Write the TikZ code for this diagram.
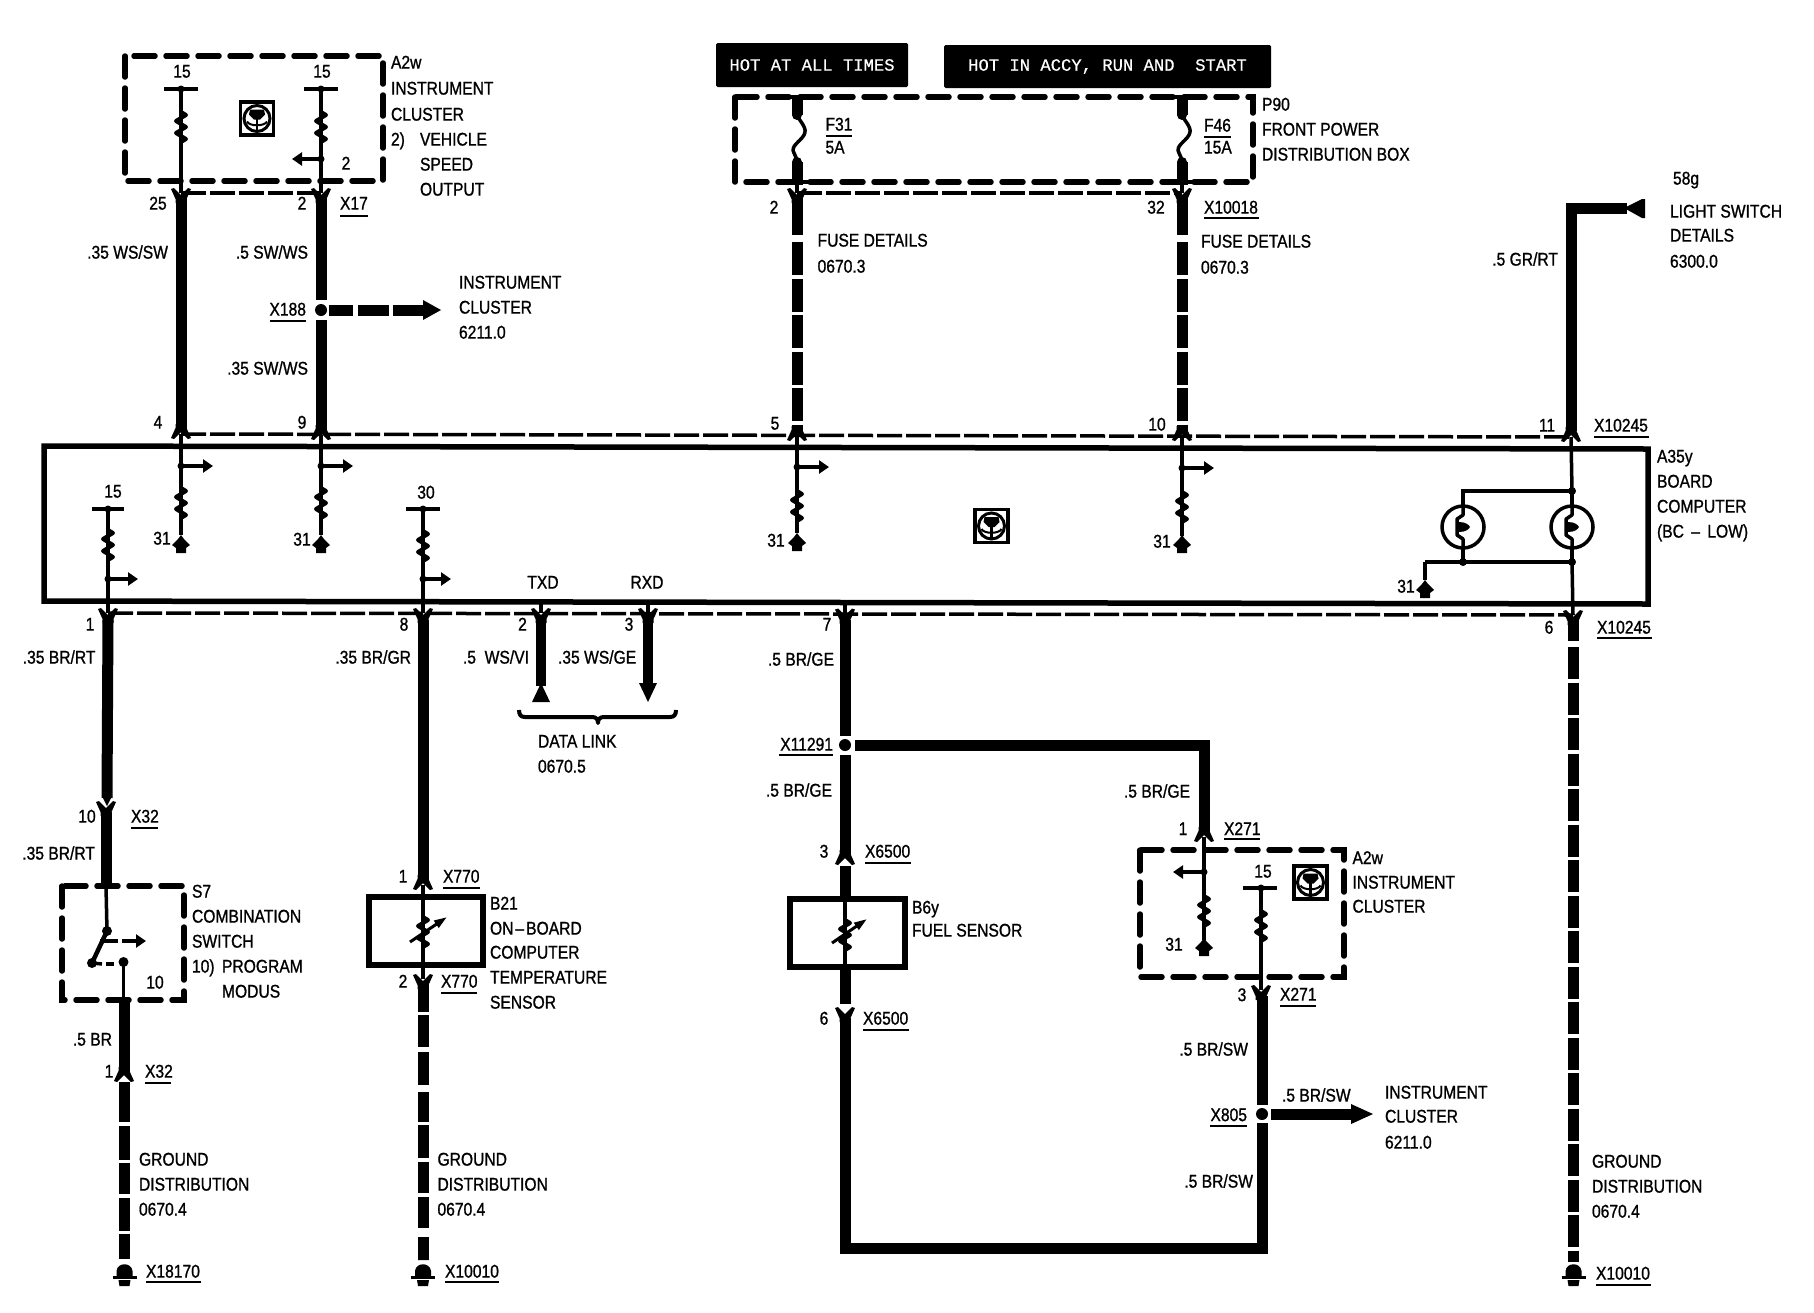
\documentclass[tikz,border=0pt]{standalone}
\usepackage{fontspec}
\setmainfont[FakeStretch=0.85,FakeBold=1.0]{Liberation Sans}
\newfontfamily\hotfont[FakeBold=0.5]{Liberation Mono}
\usetikzlibrary{arrows.meta}
\newcounter{tn}
\newcommand{\TL}[3]{\stepcounter{tn}\node[lab,anchor=base west] (tx\thetn) at (#1,#2) {#3};}
\newcommand{\TR}[3]{\stepcounter{tn}\node[lab,anchor=base east] (tx\thetn) at (#1,#2) {#3};}
\newcommand{\TC}[3]{\stepcounter{tn}\node[lab,anchor=base] (tx\thetn) at (#1,#2) {#3};}
\tikzset{
  lab/.style={inner sep=0pt,outer sep=0pt,yshift=-5.6pt,font=\fontsize{18.4}{20}\selectfont},
  thickw/.style={line width=11pt},
  thinw/.style={line width=3.5pt},
  connl/.style={line width=3.5pt,dash pattern=on 25pt off 4pt},
  boxd/.style={line width=5.5pt,line cap=round,dash pattern=on 21pt off 11pt},
  boxs/.style={line width=5.5pt,line join=miter},
  ul/.style={line width=1.8pt},
  barl/.style={line width=4pt},
  armw/.style={thinw,-{Triangle[length=10pt,width=13pt]}},
  coilp/.pic={\draw[line width=4pt,line join=round] (0,-15)--(5,-12)--(-5,-6)--(5,0)--(-5,6)--(5,12)--(0,15);},
  chevY/.pic={\fill (-10,-4)--(-7,-5)--(0,2)--(7,-5)--(10,-4)--(5.5,6)--(5.5,10)--(-5.5,10)--(-5.5,6)--cycle;},
  chevU/.pic={\fill (-10,4)--(-7,5)--(0,-2)--(7,5)--(10,4)--(5.5,-6)--(5.5,-10)--(-5.5,-10)--(-5.5,-6)--cycle;},
  termp/.pic={\fill (0,0)--(3,4)--(9,10)--(5,13)--(5,18)--(-5,18)--(-5,13)--(-9,10)--(-3,4)--cycle;},
  gndp/.pic={\fill (-8,14)--(-8,9) .. controls (-7,0) and (7,0) .. (8,9)--(8,14)--cycle;
     \draw[line width=3pt] (-12,15)--(12,15);
     \fill (-6,18)--(6,18)--(5,24)--(-5,24)--cycle;},
  symb/.pic={\draw[line width=3.5pt] (-16.5,-16.5) rectangle (16.5,16.5);
     \draw[line width=3pt] (0,0) circle (13);
     \fill (-7,-9)--(7,-9)--(8,-4)--(3,1)--(-3,1)--(-8,-4)--cycle;
     \draw[line width=2.5pt] (0,0)--(0,13);
     \draw[line width=2pt] (-10,3) .. controls (-8,8) and (8,8) .. (10,3);},
  bulbp/.pic={\draw[line width=3.5pt] (0,0) circle (21);
     \draw[thinw,line join=round] (0,-21)--(0,-12)--(-6,-8)--(-6,8)--(0,12)--(0,21);
     \fill (-4,-5) .. controls (3,-5) and (6,-2) .. (7,0) .. controls (6,2) and (3,5) .. (-4,5)--cycle;},
}
\begin{document}
\begin{tikzpicture}[x=1pt,y=-1pt]
\useasboundingbox (0,0) rectangle (1814,1312);
\fill[white] (0,0) rectangle (1814,1312);

%% -------- named connection points
\coordinate (a1) at (181,89);  \coordinate (a1c) at (181,193); \coordinate (a1b) at (181,434);
\coordinate (a2) at (321,89);  \coordinate (a2c) at (321,193); \coordinate (a2b) at (321,435);
\coordinate (a2j) at (321,159); \coordinate (a2t) at (292,159);
\coordinate (x188) at (321,310);
\coordinate (f1c) at (797,193); \coordinate (f1b) at (797,436);
\coordinate (f2c) at (1182,193); \coordinate (f2b) at (1182,436);
\coordinate (r1b) at (1571,437);
\coordinate (j4) at (181,466); \coordinate (t4) at (213,466);
\coordinate (j9) at (321,466); \coordinate (t9) at (353,466);
\coordinate (j5) at (797,467); \coordinate (t5) at (829,467);
\coordinate (j10) at (1182,468); \coordinate (t10) at (1214,468);
\coordinate (p15) at (108,509); \coordinate (j15) at (108,579); \coordinate (t15) at (138,579);
\coordinate (p30) at (423,509); \coordinate (j30) at (423,579); \coordinate (t30) at (451,579);
\coordinate (b1) at (108,613); \coordinate (b8) at (423,613); \coordinate (b2) at (541,613);
\coordinate (b3) at (648,613); \coordinate (b7) at (845,613.5); \coordinate (b6) at (1573,615);

%% -------- black banners
\node[fill=black,rounded corners=1.5pt,minimum width=192pt,minimum height=44pt,inner sep=0pt,text=white,font=\hotfont\fontsize{17.2}{20}\selectfont] (hot1) at (812,65) {HOT AT ALL TIMES};
\node[fill=black,rounded corners=1.5pt,minimum width=327pt,minimum height=43pt,inner sep=0pt,text=white,font=\hotfont\fontsize{17.2}{20}\selectfont] (hot2) at (1107.5,66.5) {HOT IN ACCY, RUN AND\ \ START};

%% -------- dashed component boxes
\draw[boxd] (125,56) rectangle (383,181);
\draw[boxd] (735,97) rectangle (1253,182);
\draw[boxd] (62,886) rectangle (184,1000);
\draw[boxd] (1140,850) rectangle (1344,977);

%% -------- A35y box
\draw[boxs] (44,446)--(1648,449)--(1648,604)--(44,601)--cycle;
%% connector rails
\draw[connl] (a1c)--(a2c);
\draw[connl] (f1c)--(f2c);
\draw[connl] (a1b)--(r1b);
\draw[connl] (b1)--(b6);

%% -------- top left: A2w
\draw[barl] (164,89)--(198,89); \draw[barl] (304,89)--(338,89);
\fill (a1) circle (3.5); \fill (a2) circle (3.5);
\draw[thinw] (a1)--(a1c); \draw[thinw] (a2)--(a2c);
\pic at (181,127) {coilp}; \pic at (321,127) {coilp};
\fill (a2j) circle (3.5); \draw[armw] (a2j)--(a2t);
\pic at (257,118.5) {symb};
\pic at (a1c) {chevY}; \pic at (a2c) {chevY};
\draw[thickw] (181,198)--(181,430);
\draw[thickw] (321,198)--(321,300);
\draw[thickw] (321,320)--(321,430);
\fill (x188) circle (6);
\draw[thickw,dash pattern=on 24pt off 5pt on 31pt off 4pt on 30pt off 0pt] (329,310)--(423,310);
\fill (423,300) -- (441,310) -- (423,320) -- cycle;
\pic at (a1b) {chevU}; \pic at (a2b) {chevU};

%% -------- box stubs, upper row
\draw[thinw] (a1b)--(181,535); \draw[thinw] (a2b)--(321,535);
\fill (j4) circle (3.5); \draw[armw] (j4)--(t4); \pic at (181,503) {coilp}; \pic at (181,535) {termp};
\fill (j9) circle (3.5); \draw[armw] (j9)--(t9); \pic at (321,503) {coilp}; \pic at (321,535) {termp};

\draw[thinw] (f1b)--(797,533); \draw[thinw] (f2b)--(1182,536);
\fill (j5) circle (3.5); \draw[armw] (j5)--(t5); \pic at (797,506) {coilp}; \pic at (797,533) {termp};
\fill (j10) circle (3.5); \draw[armw] (j10)--(t10); \pic at (1182,507) {coilp}; \pic at (1182,535) {termp};
\pic at (991.5,526) {symb};

%% -------- box stubs, lower row
\draw[barl] (92,509)--(124,509); \fill (p15) circle (3.5);
\draw[thinw] (p15)--(b1); \pic at (108,545) {coilp};
\fill (j15) circle (3.5); \draw[armw] (j15)--(t15);
\draw[barl] (406,509)--(440,509); \fill (p30) circle (3.5);
\draw[thinw] (p30)--(b8); \pic at (423,546) {coilp};
\fill (j30) circle (3.5); \draw[armw] (j30)--(t30);
\draw[thinw] (541,603)--(b2); \draw[thinw] (648,603)--(b3); \draw[thinw] (845,603)--(b7);
\pic at (b1) {chevY}; \pic at (b8) {chevY}; \pic at (b2) {chevY}; \pic at (b3) {chevY}; \pic at (b7) {chevY}; \pic at (b6) {chevY};

%% -------- fuses
\draw[thickw] (797,97)--(797,115); \draw[thickw] (797,162)--(797,185);
\draw[thickw] (1182,97)--(1182,115); \draw[thickw] (1182,162)--(1182,185);
\draw[barl] (785,97)--(809,97); \draw[barl] (1170,97)--(1194,97);
\draw[barl] (785,182)--(809,182); \draw[barl] (1170,182)--(1194,182);
\draw[thinw] (797,115) .. controls (800,122) and (808,128) .. (804,135) .. controls (800,142) and (790,146) .. (794,153) .. controls (795,156) and (797,158) .. (797,162);
\draw[thinw] (1182,115) .. controls (1185,122) and (1193,128) .. (1189,135) .. controls (1185,142) and (1175,146) .. (1179,153) .. controls (1180,156) and (1182,158) .. (1182,162);
\fill (797,115) circle (5); \fill (797,162) circle (5);
\fill (1182,115) circle (5); \fill (1182,162) circle (5);
\pic at (f1c) {chevY}; \pic at (f2c) {chevY};
\draw[thinw] (797,182)--(f1c); \draw[thinw] (1182,182)--(f2c);
\draw[thickw] (797,198)--(797,235); \draw[thickw] (1182,198)--(1182,235);
\draw[thickw,dash pattern=on 33pt off 3.5pt] (797,242)--(797,432);
\draw[thickw,dash pattern=on 33pt off 3.5pt] (1182,242)--(1182,432);
\pic at (f1b) {chevU}; \pic at (f2b) {chevU};

%% -------- right: light switch and bulbs
\draw[thickw,line join=miter] (1627,208)--(1571,208)--(1571,431);
\fill (1624,208)--(1642,199)--(1645,199)--(1645,218)--(1642,218)--cycle;
\pic at (r1b) {chevU};
\coordinate (m1) at (1572,491); \coordinate (m2) at (1572,562);
\coordinate (m3) at (1463,491); \coordinate (m4) at (1463,562); \coordinate (m5) at (1425,562); \coordinate (m6) at (1425,580);
\draw[thinw] (r1b)--(m1); \draw[thinw] (m1)--(1572,506);
\draw[thinw] (1572,548)--(m2); \draw[thinw] (m2)--(b6);
\draw[thinw] (m1)--(m3)--(1463,506);
\draw[thinw] (1463,548)--(m4);
\draw[thinw] (m5)--(m2); \draw[thinw] (m5)--(m6);
\pic at (1463,527) {bulbp}; \pic at (1572,527) {bulbp};
\fill (m1) circle (4); \fill (m2) circle (4); \fill (m4) circle (4);
\pic at (m6) {termp};
\draw[thickw] (1573,620)--(1573,641);
\draw[thickw,dash pattern=on 32pt off 3.5pt] (1573,647)--(1573,1262);
\pic at (1573.5,1262) {gndp};

%% -------- wire 1 down to ground (S7)
\draw[thickw] (108,620)--(107,798);
\fill (102,796)--(112,796)--(107,806)--cycle;
\pic at (106,806) {chevY};
\draw[thickw] (106,812)--(106,886);
\coordinate (s1) at (107,931); \coordinate (s2) at (92,963); \coordinate (s3) at (123.5,962); \coordinate (s4) at (100,941);
\draw[thinw] (106,886)--(s1);
\draw[line width=4.5pt] (s1)--(s2);
\fill (s1) circle (5); \fill (s2) circle (5); \fill (s3) circle (5);
\draw[line width=3.5pt] (s4)--(118,941);
\draw[armw] (122,941)--(146,941);
\draw[line width=3.5pt] (s2)--(102,964); \draw[line width=3.5pt] (106,964)--(114,964);
\draw[thinw] (s3)--(123.5,1000);
\draw[thickw] (124,1000)--(124,1072);
\pic at (124,1077) {chevU};
\draw[thickw,dash pattern=on 40pt off 4pt on 34pt off 3pt on 31pt off 4pt on 33pt off 3pt on 26pt off 0pt] (124,1082)--(124,1259);
\pic at (124.5,1262) {gndp};

%% -------- wire 8 down to ground (B21)
\draw[thickw] (423,620)--(423,880);
\pic at (423,885) {chevU};
\draw[thinw] (423,885)--(423,979);
\draw[boxs] (369,897) rectangle (483,965);
\pic at (423,932) {coilp};
\draw[line width=3pt,-{Triangle[length=13pt,width=8pt]}] (410,942)--(447,917);
\pic at (423,979) {chevY};
\draw[thickw,dash pattern=on 28pt off 3pt on 32pt off 5pt on 33pt off 7pt on 30pt off 3pt on 33pt off 4pt on 31pt off 4pt on 31pt off 9pt on 23pt off 0pt] (423,984)--(423,1260);
\pic at (423,1262) {gndp};

%% -------- data link
\draw[line width=10pt] (541,620)--(541,686);
\fill (541,683)--(550,702)--(532,702)--cycle;
\draw[line width=10pt] (648,620)--(648,686);
\fill (639,683)--(657,683)--(648,702)--cycle;
\draw[line width=4pt,line join=round] (519,710) .. controls (519,715) and (521,717) .. (525,717) -- (592,717) .. controls (596,717) and (598,719) .. (598,723) .. controls (598,719) and (600,717) .. (604,717) -- (670,717) .. controls (674,717) and (676,715) .. (676,710);

%% -------- wire 7, fuel sensor, lower instrument cluster
\coordinate (k1) at (845,745); \coordinate (k2) at (1204,745); \coordinate (k3) at (845,1248); \coordinate (k4) at (1262,1248); \coordinate (k5) at (1262,1114);
\draw[thickw] (845,620)--(845,736);
\fill (k1) circle (6);
\draw[thickw] (845,755)--(845,856);
\draw[thickw,line join=miter] (855,745)--(k2)--(1204,832);
\pic at (1204,837) {chevU};
\pic at (845,860) {chevU};
\draw[thickw] (845,866)--(845,899);
\draw[thinw] (845,899)--(845,967);
\draw[boxs] (790,899) rectangle (905,967);
\pic at (845,935) {coilp};
\draw[line width=3pt,-{Triangle[length=13pt,width=8pt]}] (832,943)--(867,919);
\draw[thickw] (845,967)--(845,1004);
\pic at (845,1012) {chevY};
\draw[thickw,line join=miter] (845,1018)--(k3)--(k4)--(1262,1123);
\draw[thickw] (1262,1105)--(1262,996);
\fill (k5) circle (6);
\draw[thickw] (1271,1114)--(1352,1114);
\fill (1351,1104)--(1373,1114)--(1351,1124)--cycle;
\coordinate (q1) at (1204,872); \coordinate (q2) at (1173,872); \coordinate (q3) at (1261,888);
\draw[thinw] (1204,837)--(1204,940);
\fill (q1) circle (3.5); \draw[armw] (q1)--(q2);
\pic at (1204,911) {coilp}; \pic at (1204,938) {termp};
\draw[barl] (1243,888)--(1277,888); \fill (q3) circle (3.5);
\draw[thinw] (q3)--(1261,990);
\pic at (1261,926) {coilp};
\pic at (1261,990) {chevY};
\pic at (1310.5,882.5) {symb};

%% -------- underlines
\draw[ul] (340,216)--(368,216);
\draw[ul] (270,321)--(306,321);
\draw[ul] (825.5,136)--(852,136);
\draw[ul] (1204,137)--(1231,137);
\draw[ul] (1204,218)--(1258.5,218);
\draw[ul] (1594,437)--(1649,437);
\draw[ul] (1597,638)--(1652,638);
\draw[ul] (131,828)--(158,828);
\draw[ul] (145,1083)--(171,1083);
\draw[ul] (146,1282)--(201,1282);
\draw[ul] (443,888)--(480,888);
\draw[ul] (441,993)--(477,993);
\draw[ul] (445,1282)--(499,1282);
\draw[ul] (779,755)--(833,755);
\draw[ul] (865,863)--(911,863);
\draw[ul] (863,1030)--(908.5,1030);
\draw[ul] (1224,839)--(1260,839);
\draw[ul] (1280,1006)--(1316,1006);
\draw[ul] (1210,1126)--(1247,1126);
\draw[ul] (1596,1285)--(1651,1285);

%% -------- texts, upper left
\TC{182}{72}{15} \TC{322}{72}{15} \TC{346}{164}{2}
\TL{391}{63}{A2w} \TL{391}{89}{INSTRUMENT} \TL{391}{115}{CLUSTER}
\TL{391}{140}{2)} \TL{420}{140}{VEHICLE} \TL{420}{165}{SPEED} \TL{420}{190}{OUTPUT}
\TC{158}{204}{25} \TC{302}{204}{2} \TL{340}{204}{X17}
\TR{168}{253}{.35 WS/SW} \TR{308}{253}{.5 SW/WS} \TR{308}{369}{.35 SW/WS}
\TR{306}{310}{X188}
\TL{459}{283}{INSTRUMENT} \TL{459}{308}{CLUSTER} \TL{459}{333}{6211.0}
\TC{158}{423}{4} \TC{302}{423}{9}

%% -------- fuses
\TL{825.5}{125}{F31} \TL{825.5}{148}{5A} \TL{1204}{126}{F46} \TL{1204}{148}{15A}
\TL{1262}{105}{P90} \TL{1262}{130}{FRONT POWER} \TL{1262}{155}{DISTRIBUTION BOX}
\TC{774}{208}{2} \TC{1156}{208}{32} \TL{1204}{208}{X10018}
\TL{817.6}{241}{FUSE DETAILS} \TL{817.6}{267}{0670.3}
\TL{1201}{242}{FUSE DETAILS} \TL{1201}{268}{0670.3}
\TC{775}{424}{5} \TC{1157}{425}{10} \TC{1547}{426}{11} \TL{1594}{426}{X10245}

%% -------- right
\TL{1673}{179}{58g} \TL{1670}{212}{LIGHT SWITCH} \TL{1670}{236}{DETAILS} \TL{1670}{262}{6300.0}
\TR{1558}{260}{.5 GR/RT}
\TL{1657}{457}{A35y} \TL{1657}{482}{BOARD} \TL{1657}{507}{COMPUTER} \TL{1657}{532}{(BC\hspace{3pt} – \hspace{3pt}LOW)}
\TC{1406}{587}{31} \TC{1549}{628}{6} \TL{1597}{628}{X10245}
\TL{1592}{1162}{GROUND} \TL{1592}{1187}{DISTRIBUTION} \TL{1592}{1212}{0670.4}
\TL{1596}{1274}{X10010}

%% -------- inside the box
\TC{162}{539}{31} \TC{302}{540}{31} \TC{776}{541}{31} \TC{1162}{542}{31}
\TC{113}{492}{15} \TC{426}{493}{30}
\TC{543}{583}{TXD} \TC{647}{583}{RXD}

%% -------- below the box
\TC{90}{625}{1} \TC{404}{625}{8} \TC{522.5}{625}{2} \TC{629}{625}{3} \TC{827}{625}{7}
\TR{95.5}{658}{.35 BR/RT} \TR{411}{658}{.35 BR/GR} \TR{529}{658}{.5\ \ WS/VI} \TL{558}{658}{.35 WS/GE}
\TL{538}{742}{DATA LINK} \TL{538}{767}{0670.5}
\TR{834}{660}{.5 BR/GE}

%% -------- S7
\TC{87}{817}{10} \TL{131}{817}{X32} \TR{95}{854}{.35 BR/RT}
\TL{192}{892}{S7} \TL{192}{917}{COMBINATION} \TL{192}{942}{SWITCH}
\TL{192}{967}{10)} \TL{222}{967}{PROGRAM} \TL{222}{992}{MODUS}
\TC{155}{983}{10} \TR{112}{1040}{.5 BR} \TC{109}{1072}{1} \TL{145}{1072}{X32}
\TL{139}{1160}{GROUND} \TL{139}{1185}{DISTRIBUTION} \TL{139}{1210}{0670.4}
\TL{146}{1272}{X18170}

%% -------- B21
\TC{403}{877}{1} \TL{443}{877}{X770} \TC{403}{982}{2} \TL{441}{982}{X770}
\TL{490}{904}{B21} \TL{490}{929}{ON\hspace{2pt}–\hspace{2pt}BOARD} \TL{490}{953}{COMPUTER} \TL{490}{978}{TEMPERATURE} \TL{490}{1003}{SENSOR}
\TL{437.5}{1160}{GROUND} \TL{437.5}{1185}{DISTRIBUTION} \TL{437.5}{1210}{0670.4}
\TL{445}{1272}{X10010}

%% -------- fuel sensor
\TR{833}{745}{X11291} \TR{832}{791}{.5 BR/GE} \TR{1190}{792}{.5 BR/GE}
\TC{824}{852}{3} \TL{865}{852}{X6500} \TC{824}{1019}{6} \TL{863}{1019}{X6500}
\TL{912}{908}{B6y} \TL{912}{931}{FUEL SENSOR}

%% -------- lower instrument cluster
\TC{1183}{829.5}{1} \TL{1224}{829.5}{X271} \TC{1242}{995.5}{3} \TL{1280}{995}{X271}
\TC{1174}{945}{31} \TC{1263}{872}{15}
\TL{1352.5}{858.5}{A2w} \TL{1352.5}{883}{INSTRUMENT} \TL{1352.5}{907}{CLUSTER}
\TR{1248}{1050}{.5 BR/SW} \TR{1247}{1115.5}{X805} \TL{1282}{1096}{.5 BR/SW} \TR{1253}{1182}{.5 BR/SW}
\TL{1385}{1093}{INSTRUMENT} \TL{1385}{1117}{CLUSTER} \TL{1385}{1143}{6211.0}
\end{tikzpicture}
\end{document}
